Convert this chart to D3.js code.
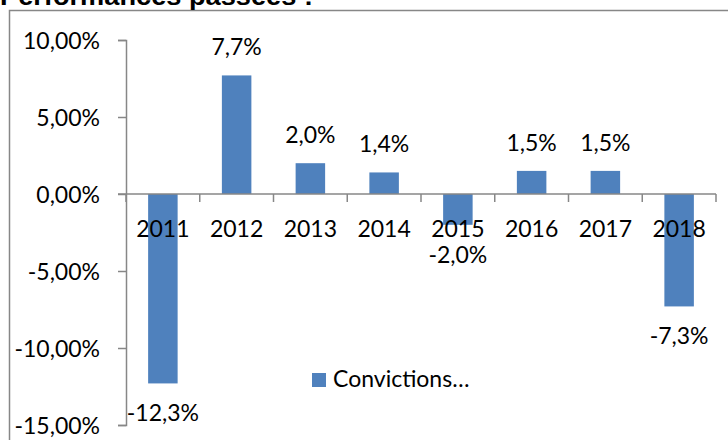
<!DOCTYPE html>
<html><head><meta charset="utf-8">
<script src="https://cdn.jsdelivr.net/npm/d3@7"></script>
<style>body{margin:0;background:#fff}svg{display:block}</style>
</head><body>
<script>
const categories = ["2011","2012","2013","2014","2015","2016","2017","2018"];
const values = [-12.3, 7.7, 2.0, 1.4, -2.0, 1.5, 1.5, -7.3];
const valueLabels = ["-12,3%","7,7%","2,0%","1,4%","-2,0%","1,5%","1,5%","-7,3%"];
const yTicks = [10, 5, 0, -5, -10, -15];
const seriesName = "Convictions…";
const title = "Performances passées :";

const W = 728, H = 440;
const svg = d3.select("body").append("svg").attr("width", W).attr("height", H);
const font = "Lato, 'Liberation Sans', sans-serif";
const axisColor = "#878787";
const barColor = "#4F81BD";

// chart border
svg.append("path").attr("d", `M9.5,${H+5} V10.5 H${W+5}`).attr("fill","none").attr("stroke",axisColor).attr("stroke-width",1.5);

// title (clipped at top, as in the reference)
svg.append("text").attr("x", 0).attr("y", 5).attr("font-family","'Liberation Sans', Arial, sans-serif")
  .attr("font-weight","bold").attr("font-size",26).attr("textLength",313).attr("lengthAdjust","spacingAndGlyphs")
  .attr("fill","#000").text(title);

const x = d3.scaleBand().domain(categories).range([126, 716]).paddingInner(0.6).paddingOuter(0.3);
const y = d3.scaleLinear().domain([-15, 10]).range([425, 40]);

// y axis
const yAxis = d3.axisLeft(y).tickValues(yTicks).tickSize(8).tickPadding(18)
  .tickFormat(d => d3.format(".2f")(d).replace(".", ",").replace("\u2212", "-") + "%");
const gy = svg.append("g").attr("transform","translate(126,0)").call(yAxis);
gy.select(".domain").attr("stroke",axisColor).attr("stroke-width",1.5);
gy.selectAll(".tick line").attr("stroke",axisColor).attr("stroke-width",1.5);
gy.selectAll(".tick text").attr("font-family",font).attr("font-size",23).attr("fill","#000").attr("dy","0.35em");

// bars
svg.append("g").selectAll("rect").data(values).join("rect")
  .attr("x",(d,i)=>x(categories[i]))
  .attr("width",x.bandwidth())
  .attr("y",d=>y(Math.max(0,d)))
  .attr("height",d=>Math.abs(y(d)-y(0)))
  .attr("fill",barColor);

// x axis (category tick marks at band boundaries)
const xBoundaries = d3.range(categories.length + 1).map(i => x.range()[0] + i * ((x.range()[1]-x.range()[0]) / categories.length));
const gx = svg.append("g");
gx.append("line").attr("x1",118).attr("x2",716).attr("y1",y(0)).attr("y2",y(0)).attr("stroke",axisColor).attr("stroke-width",1.5);
gx.selectAll("line.t").data(xBoundaries).join("line").attr("class","t")
  .attr("x1",d=>d).attr("x2",d=>d).attr("y1",y(0)).attr("y2",y(0)+8).attr("stroke",axisColor).attr("stroke-width",1.5);
gx.selectAll("text").data(categories).join("text")
  .attr("x",d=>x(d)+x.bandwidth()/2).attr("y",y(0)+43).attr("text-anchor","middle")
  .attr("font-family",font).attr("font-size",23).attr("fill","#000").text(d=>d);

// value labels
svg.append("g").selectAll("text").data(values).join("text")
  .attr("x",(d,i)=>x(categories[i])+x.bandwidth()/2)
  .attr("y",d=> d>=0 ? y(d)-20 : y(d)+38)
  .attr("text-anchor","middle").attr("font-family",font).attr("font-size",23).attr("fill","#000")
  .text((d,i)=>valueLabels[i]);

// legend
const lg = svg.append("g");
lg.append("rect").attr("x",312).attr("y",373).attr("width",14).attr("height",14).attr("fill",barColor);
lg.append("text").attr("x",333).attr("y",387).attr("font-family",font).attr("font-size",23).attr("fill","#000").text(seriesName);
</script>
</body></html>
